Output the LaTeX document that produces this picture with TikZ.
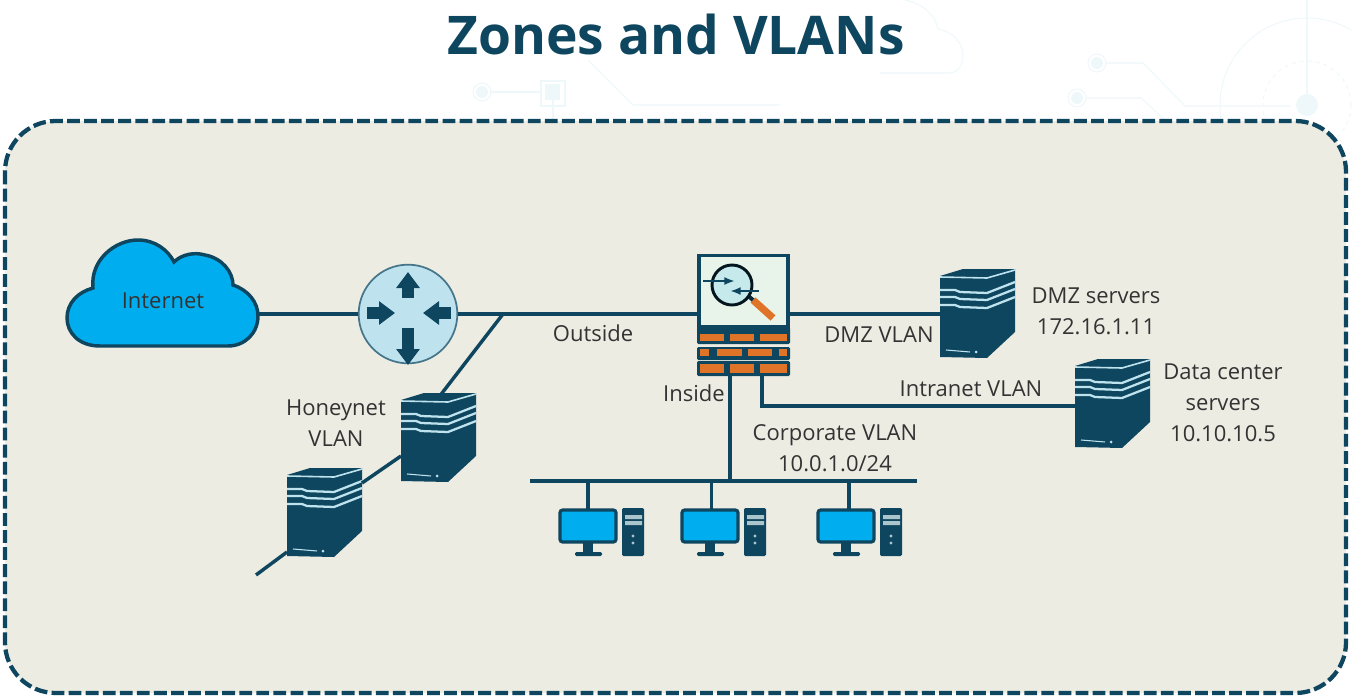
\documentclass[tikz,border=0pt]{standalone}
\usepackage{fontspec}
\setmainfont{Open Sans}
\usetikzlibrary{arrows.meta,positioning}
\definecolor{navy}{HTML}{0F465F}
\definecolor{panel}{HTML}{EDECE3}
\definecolor{skyblue}{HTML}{00AEEF}
\definecolor{pale}{HTML}{BEE3EE}
\definecolor{brick}{HTML}{DF7429}
\definecolor{txtgray}{HTML}{333333}
\definecolor{ghost}{HTML}{EEF8FB}
\definecolor{fwglass}{HTML}{E8F3E9}
\definecolor{lens}{HTML}{C6E9EC}
\tikzset{
  link/.style={draw=navy,line width=2.6pt},
  label/.style={text=txtgray,font=\fontsize{16.5}{23.2}\selectfont,align=center,inner sep=0pt},
  blockarrow/.style={navy,line width=9pt,-{Triangle[length=12pt,width=17pt]}},
  faint/.style={draw=ghost,line width=.8pt},
  spot/.style={inner sep=0pt,minimum width=#1,minimum height=#1},
  pics/serverbox/.style={code={
    \fill[navy] (0,7) -- (23,0) -- (75,0) -- (75,63) -- (47,89) -- (0,88) -- cycle;
    \draw[pale,line width=1.2pt] (0,8) -- (47,9) -- (75,1);
    \foreach \y in {21,28,36}
      \draw[pale,line width=1.7pt] (0,\y) -- (15,\y) -- (20,\y+2) -- (47,\y+3) -- (75,\y-8);
    \draw[pale,line width=.8pt] (6,81) -- (30,83);
    \fill[pale] (36,83) circle (1.5);
    \node[spot=0pt] (-left) at (0,45) {};
    \node[spot=0pt] (-right) at (75,30) {};
    \node[spot=0pt] (-top) at (38,4) {};
  }},
  pics/pcbox/.style={code={
    \fill[navy] (24,33) rectangle (34,44);
    \fill[navy,rounded corners=1pt] (16,43) rectangle (43,47);
    \draw[navy,fill=skyblue,line width=2.4pt,rounded corners=2pt] (1,1) rectangle (57,33);
    \fill[navy,rounded corners=1pt] (63,-1) rectangle (85,47);
    \fill[pale!70!gray] (66,6) rectangle (83,10) (66,12) rectangle (83,16);
    \fill[pale!70!gray] (74,27) circle (1.6) (74,34) circle (1.6);
    \node[spot=0pt] (-screen) at (29,0) {};
  }}
}
\begin{document}
\begin{tikzpicture}[x=.75pt,y=-.75pt]
\useasboundingbox (0,0) rectangle (1352,699);

% backdrop
\draw[faint] (880,73) -- (950,73) .. controls (968,72) and (970,35) .. (938,29) .. controls (935,15) and (925,5) .. (905,0);
\foreach \cx/\cy in {1097/63,1077/98,482/92} {
  \fill[ghost] (\cx,\cy) circle (6);
  \draw[faint] (\cx,\cy) circle (9);
}
\draw[faint] (1106,63) -- (1143,63) -- (1185,106) -- (1290,106);
\draw[faint] (1086,98) -- (1141,98) -- (1165,120);
\draw[faint] (491,92) -- (541,92);
\fill[ghost] (545,84) rectangle (560,100);
\draw[faint] (541,81) rectangle (565,106);
\draw[faint] (553,100) -- (553,120);
\draw[faint] (588,60) -- (633,105) -- (780,105);
\draw[faint] (1307,0) -- (1307,94);
\draw[faint] (1307,105) circle (87);
\draw[faint,dashed] (1307,105) circle (44);
\fill[ghost] (1307,105) circle (11);

% title
\node[text=navy,font=\fontsize{40}{48}\selectfont\bfseries,inner sep=0pt] (title) at (676,35) {Zones and VLANs};

% panel
\draw[navy,fill=panel,line width=3.2pt,dash pattern=on 9.6pt off 3.2pt,rounded corners=38pt] (5,121) rectangle (1346,693);

% cloud
\draw[navy,fill=skyblue,line width=2.6pt] (100,346) .. controls (78,346) and (67,332) .. (67,318)
  .. controls (67,303) and (78,292) .. (93,288) .. controls (90,260) and (115,240) .. (138,240)
  .. controls (155,240) and (168,250) .. (174,262) .. controls (182,254) and (195,252) .. (205,255)
  .. controls (222,258) and (233,272) .. (233,285) .. controls (248,290) and (258,302) .. (258,316)
  .. controls (258,333) and (245,346) .. (228,346) -- cycle;
\node[label] (inet) at (163,301) {Internet};
\coordinate (inetport) at (258,314);

% router
\node[circle,draw=navy!70!pale,fill=pale,line width=1.3pt,minimum size=74pt,inner sep=0pt] (router) at (408,314) {};
\draw[blockarrow] (408,298) -- (408,272);
\draw[blockarrow] (408,328) -- (408,365);
\draw[blockarrow] (367,313) -- (395,313);
\draw[blockarrow] (451,313) -- (423,313);

% firewall
\node[draw=navy,fill=fwglass,line width=2.6pt,minimum width=67pt,minimum height=53pt,inner sep=0pt] (fw) at (743.5,291) {};
\fill[navy,rounded corners=1pt] (697,327) rectangle (790,344) (697,347) rectangle (790,360) (697,361) rectangle (790,376);
\foreach \l/\r in {700/724,730/754,760/787} {
  \fill[brick] (\l,334) rectangle (\r,341);
  \fill[brick] (\l,364) rectangle (\r,373);
}
\foreach \l/\r in {700/709,717/742,748/772,779/787}
  \fill[brick] (\l,349) rectangle (\r,356);
\draw[brick,line width=5.4pt] (753,300) -- (773,318);
\draw[navy!60!black,line width=3pt] (747,295) -- (753,300);
\draw[black!70!navy,fill=lens,line width=2.2pt] (732,285) circle (20);
\draw[navy,line width=2pt,-{Latex[length=8pt]}] (703,281) -- (735,281);
\draw[navy,line width=2pt,-{Latex[length=8pt]}] (759,291) -- (730,291);

% servers
\pic (dmz) at (940,269) {serverbox};
\pic (dc) at (1075,359) {serverbox};
\pic (honeya) at (401,393) {serverbox};
\pic (honeyb) at (287,468) {serverbox};

% workstations
\pic (pca) at (559,509) {pcbox};
\pic (pcb) at (681,509) {pcbox};
\pic (pcc) at (817,509) {pcbox};

% links
\coordinate (busleft) at (530,481);
\coordinate (busright) at (917,481);
\coordinate (tap) at (503,314);
\coordinate (tail) at (256,575);
\draw[link] (inetport) -- (router);
\draw[link] (router) -- (fw.west |- router);
\draw[link] (tap) -- (honeya-top);
\draw[link] (fw.east |- router) -- (dmz-left |- router);
\draw[link] (busleft) -- (busright);
\draw[link] (730,376) -- (730,481);
\draw[link] (762,376) |- (dc-left |- 0,406);
\draw[link] (honeya-left) ++(0,18) -- (362,483);
\draw[link] (tail) -- (287,552);
\foreach \p/\dx in {pca/0pt,pcb/1pt,pcc/2.2pt}
  \draw[link] ([xshift=\dx]\p-screen.center) -- ([xshift=\dx]\p-screen.center |- busleft);

% labels
\node[label] (outside) at (593,333) {Outside};
\node[label] (inside) at (694,393) {Inside};
\node[label] (dmzvlan) at (879,335) {DMZ VLAN};
\node[label] (dmztxt) at (1096,311) {DMZ servers\\172.16.1.11};
\node[label] (intra) at (971,389) {Intranet VLAN};
\node[label] (corp) at (835,448) {Corporate VLAN\\10.0.1.0/24};
\node[label] (dctxt) at (1223,403) {Data center\\servers\\10.10.10.5};
\node[label] (honeytxt) at (336,423) {Honeynet\\VLAN};
\end{tikzpicture}
\end{document}
